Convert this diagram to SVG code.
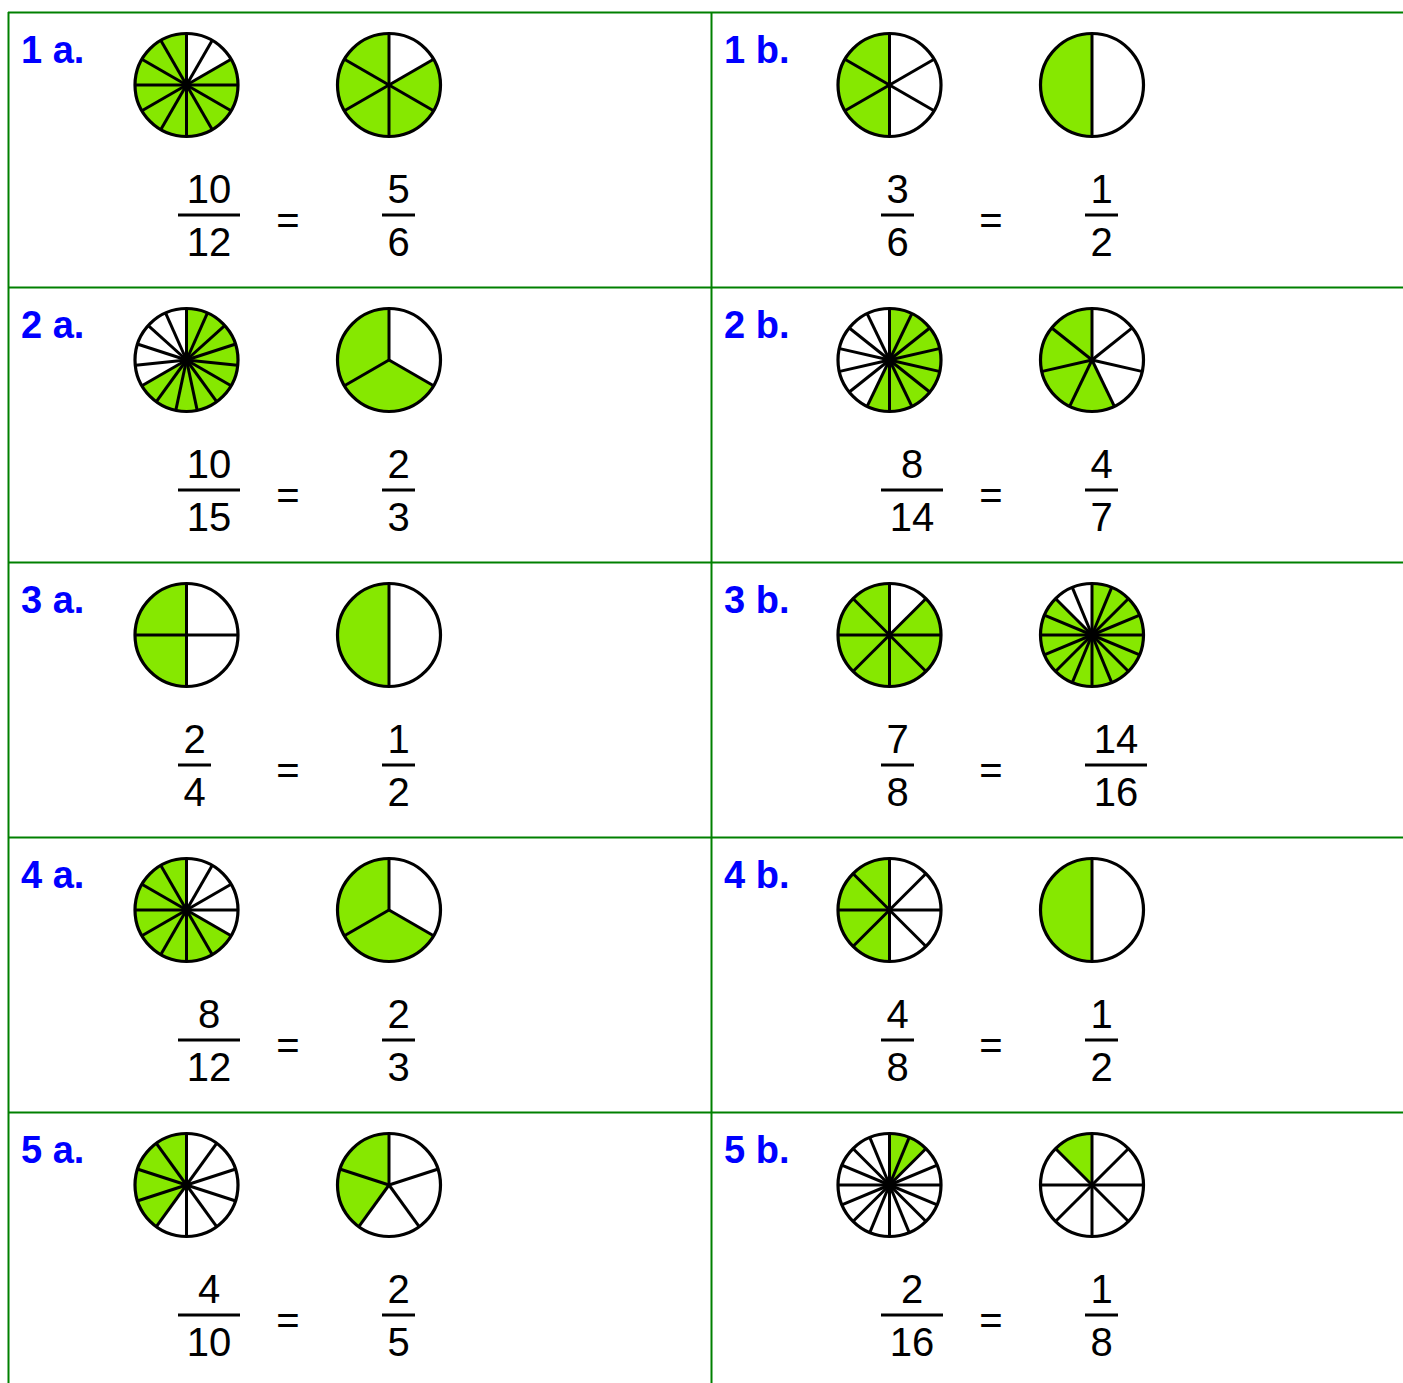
<svg xmlns="http://www.w3.org/2000/svg" xmlns:xlink="http://www.w3.org/1999/xlink" width="1403" height="1383" viewBox="0 0 1403 1383">
<style>
.grid{stroke:#008000;stroke-width:2;fill:none}
.lbl{font-family:"Liberation Sans",Arial,sans-serif;font-weight:bold;font-size:38px;fill:#0000ff}
.num{font-family:"Liberation Sans",Arial,sans-serif;font-size:40px;fill:#000;text-anchor:middle}
.bar{fill:#000}
.wedge{fill:none;stroke:#86e800;stroke-width:51}
</style>
<defs>
<line id="r" x1="0" y1="0" x2="0" y2="-51" stroke="#000" stroke-width="3"/>
<g id="s2"><use xlink:href="#r"/><use xlink:href="#r" transform="rotate(180)"/></g>
<g id="s3"><use xlink:href="#r"/><use xlink:href="#r" transform="rotate(120)"/><use xlink:href="#r" transform="rotate(240)"/></g>
<g id="s4"><use xlink:href="#r"/><use xlink:href="#r" transform="rotate(90)"/><use xlink:href="#r" transform="rotate(180)"/><use xlink:href="#r" transform="rotate(270)"/></g>
<g id="s5"><use xlink:href="#r"/><use xlink:href="#r" transform="rotate(72)"/><use xlink:href="#r" transform="rotate(144)"/><use xlink:href="#r" transform="rotate(216)"/><use xlink:href="#r" transform="rotate(288)"/></g>
<g id="s6"><use xlink:href="#r"/><use xlink:href="#r" transform="rotate(60)"/><use xlink:href="#r" transform="rotate(120)"/><use xlink:href="#r" transform="rotate(180)"/><use xlink:href="#r" transform="rotate(240)"/><use xlink:href="#r" transform="rotate(300)"/></g>
<g id="s7"><use xlink:href="#r"/><use xlink:href="#r" transform="rotate(51.4286)"/><use xlink:href="#r" transform="rotate(102.857)"/><use xlink:href="#r" transform="rotate(154.286)"/><use xlink:href="#r" transform="rotate(205.714)"/><use xlink:href="#r" transform="rotate(257.143)"/><use xlink:href="#r" transform="rotate(308.571)"/></g>
<g id="s8"><use xlink:href="#r"/><use xlink:href="#r" transform="rotate(45)"/><use xlink:href="#r" transform="rotate(90)"/><use xlink:href="#r" transform="rotate(135)"/><use xlink:href="#r" transform="rotate(180)"/><use xlink:href="#r" transform="rotate(225)"/><use xlink:href="#r" transform="rotate(270)"/><use xlink:href="#r" transform="rotate(315)"/></g>
<g id="s10"><use xlink:href="#r"/><use xlink:href="#r" transform="rotate(36)"/><use xlink:href="#r" transform="rotate(72)"/><use xlink:href="#r" transform="rotate(108)"/><use xlink:href="#r" transform="rotate(144)"/><use xlink:href="#r" transform="rotate(180)"/><use xlink:href="#r" transform="rotate(216)"/><use xlink:href="#r" transform="rotate(252)"/><use xlink:href="#r" transform="rotate(288)"/><use xlink:href="#r" transform="rotate(324)"/></g>
<g id="s12"><use xlink:href="#r"/><use xlink:href="#r" transform="rotate(30)"/><use xlink:href="#r" transform="rotate(60)"/><use xlink:href="#r" transform="rotate(90)"/><use xlink:href="#r" transform="rotate(120)"/><use xlink:href="#r" transform="rotate(150)"/><use xlink:href="#r" transform="rotate(180)"/><use xlink:href="#r" transform="rotate(210)"/><use xlink:href="#r" transform="rotate(240)"/><use xlink:href="#r" transform="rotate(270)"/><use xlink:href="#r" transform="rotate(300)"/><use xlink:href="#r" transform="rotate(330)"/></g>
<g id="s14"><use xlink:href="#r"/><use xlink:href="#r" transform="rotate(25.714)"/><use xlink:href="#r" transform="rotate(51.429)"/><use xlink:href="#r" transform="rotate(77.143)"/><use xlink:href="#r" transform="rotate(102.857)"/><use xlink:href="#r" transform="rotate(128.571)"/><use xlink:href="#r" transform="rotate(154.286)"/><use xlink:href="#r" transform="rotate(180)"/><use xlink:href="#r" transform="rotate(205.714)"/><use xlink:href="#r" transform="rotate(231.429)"/><use xlink:href="#r" transform="rotate(257.143)"/><use xlink:href="#r" transform="rotate(282.857)"/><use xlink:href="#r" transform="rotate(308.571)"/><use xlink:href="#r" transform="rotate(334.286)"/></g>
<g id="s15"><use xlink:href="#r"/><use xlink:href="#r" transform="rotate(24)"/><use xlink:href="#r" transform="rotate(48)"/><use xlink:href="#r" transform="rotate(72)"/><use xlink:href="#r" transform="rotate(96)"/><use xlink:href="#r" transform="rotate(120)"/><use xlink:href="#r" transform="rotate(144)"/><use xlink:href="#r" transform="rotate(168)"/><use xlink:href="#r" transform="rotate(192)"/><use xlink:href="#r" transform="rotate(216)"/><use xlink:href="#r" transform="rotate(240)"/><use xlink:href="#r" transform="rotate(264)"/><use xlink:href="#r" transform="rotate(288)"/><use xlink:href="#r" transform="rotate(312)"/><use xlink:href="#r" transform="rotate(336)"/></g>
<g id="s16"><use xlink:href="#r"/><use xlink:href="#r" transform="rotate(22.5)"/><use xlink:href="#r" transform="rotate(45)"/><use xlink:href="#r" transform="rotate(67.5)"/><use xlink:href="#r" transform="rotate(90)"/><use xlink:href="#r" transform="rotate(112.5)"/><use xlink:href="#r" transform="rotate(135)"/><use xlink:href="#r" transform="rotate(157.5)"/><use xlink:href="#r" transform="rotate(180)"/><use xlink:href="#r" transform="rotate(202.5)"/><use xlink:href="#r" transform="rotate(225)"/><use xlink:href="#r" transform="rotate(247.5)"/><use xlink:href="#r" transform="rotate(270)"/><use xlink:href="#r" transform="rotate(292.5)"/><use xlink:href="#r" transform="rotate(315)"/><use xlink:href="#r" transform="rotate(337.5)"/></g>
<circle id="disc" fill="#fff" r="51.5"/>
<circle id="rim" fill="none" stroke="#000" stroke-width="3.2" r="51.5"/>
</defs>
<rect width="1403" height="1383" fill="#fff"/>

<g id="grid">
<line class="grid" x1="8" y1="12.5" x2="1403" y2="12.5"/>
<line class="grid" x1="8" y1="287.5" x2="1403" y2="287.5"/>
<line class="grid" x1="8" y1="562.5" x2="1403" y2="562.5"/>
<line class="grid" x1="8" y1="837.5" x2="1403" y2="837.5"/>
<line class="grid" x1="8" y1="1112.5" x2="1403" y2="1112.5"/>
<line class="grid" x1="8.5" y1="12" x2="8.5" y2="1383"/>
<line class="grid" x1="711.5" y1="12" x2="711.5" y2="1383"/>
</g>

<!-- 1a -->
<g id="cell-1a">
<text class="lbl" x="21" y="63">1 a.</text>
<g transform="translate(186.5,85)"><use xlink:href="#disc"/><circle class="wedge" r="25.5" pathLength="360" transform="rotate(-90)" stroke-dasharray="300 360" stroke-dashoffset="-60"/><use xlink:href="#s12"/><use xlink:href="#rim"/></g>
<g transform="translate(389,85)"><use xlink:href="#disc"/><circle class="wedge" r="25.5" pathLength="360" transform="rotate(-90)" stroke-dasharray="300 360" stroke-dashoffset="-60"/><use xlink:href="#s6"/><use xlink:href="#rim"/></g>
<text class="num" x="209" y="203">10</text><rect class="bar" x="178" y="213.5" width="62" height="3"/><text class="num" x="209" y="256">12</text>
<text class="num" x="288" y="234">=</text>
<text class="num" x="398.5" y="203">5</text><rect class="bar" x="382" y="213.5" width="33" height="3"/><text class="num" x="398.5" y="256">6</text>
</g>

<!-- 1b -->
<g id="cell-1b" transform="translate(703,0)">
<text class="lbl" x="21" y="63">1 b.</text>
<g transform="translate(186.5,85)"><use xlink:href="#disc"/><circle class="wedge" r="25.5" pathLength="360" transform="rotate(-90)" stroke-dasharray="180 360" stroke-dashoffset="-180"/><use xlink:href="#s6"/><use xlink:href="#rim"/></g>
<g transform="translate(389,85)"><use xlink:href="#disc"/><circle class="wedge" r="25.5" pathLength="360" transform="rotate(-90)" stroke-dasharray="180 360" stroke-dashoffset="-180"/><use xlink:href="#s2"/><use xlink:href="#rim"/></g>
<text class="num" x="194.5" y="203">3</text><rect class="bar" x="178" y="213.5" width="33" height="3"/><text class="num" x="194.5" y="256">6</text>
<text class="num" x="288" y="234">=</text>
<text class="num" x="398.5" y="203">1</text><rect class="bar" x="382" y="213.5" width="33" height="3"/><text class="num" x="398.5" y="256">2</text>
</g>

<!-- 2a -->
<g id="cell-2a" transform="translate(0,275)">
<text class="lbl" x="21" y="63">2 a.</text>
<g transform="translate(186.5,85)"><use xlink:href="#disc"/><circle class="wedge" r="25.5" pathLength="360" transform="rotate(-90)" stroke-dasharray="240 360" stroke-dashoffset="0"/><use xlink:href="#s15"/><use xlink:href="#rim"/></g>
<g transform="translate(389,85)"><use xlink:href="#disc"/><circle class="wedge" r="25.5" pathLength="360" transform="rotate(-90)" stroke-dasharray="240 360" stroke-dashoffset="-120"/><use xlink:href="#s3"/><use xlink:href="#rim"/></g>
<text class="num" x="209" y="203">10</text><rect class="bar" x="178" y="213.5" width="62" height="3"/><text class="num" x="209" y="256">15</text>
<text class="num" x="288" y="234">=</text>
<text class="num" x="398.5" y="203">2</text><rect class="bar" x="382" y="213.5" width="33" height="3"/><text class="num" x="398.5" y="256">3</text>
</g>

<!-- 2b -->
<g id="cell-2b" transform="translate(703,275)">
<text class="lbl" x="21" y="63">2 b.</text>
<g transform="translate(186.5,85)"><use xlink:href="#disc"/><circle class="wedge" r="25.5" pathLength="360" transform="rotate(-90)" stroke-dasharray="205.714 360" stroke-dashoffset="0"/><use xlink:href="#s14"/><use xlink:href="#rim"/></g>
<g transform="translate(389,85)"><use xlink:href="#disc"/><circle class="wedge" r="25.5" pathLength="360" transform="rotate(-90)" stroke-dasharray="205.714 360" stroke-dashoffset="-154.286"/><use xlink:href="#s7"/><use xlink:href="#rim"/></g>
<text class="num" x="209" y="203">8</text><rect class="bar" x="178" y="213.5" width="62" height="3"/><text class="num" x="209" y="256">14</text>
<text class="num" x="288" y="234">=</text>
<text class="num" x="398.5" y="203">4</text><rect class="bar" x="382" y="213.5" width="33" height="3"/><text class="num" x="398.5" y="256">7</text>
</g>

<!-- 3a -->
<g id="cell-3a" transform="translate(0,550)">
<text class="lbl" x="21" y="63">3 a.</text>
<g transform="translate(186.5,85)"><use xlink:href="#disc"/><circle class="wedge" r="25.5" pathLength="360" transform="rotate(-90)" stroke-dasharray="180 360" stroke-dashoffset="-180"/><use xlink:href="#s4"/><use xlink:href="#rim"/></g>
<g transform="translate(389,85)"><use xlink:href="#disc"/><circle class="wedge" r="25.5" pathLength="360" transform="rotate(-90)" stroke-dasharray="180 360" stroke-dashoffset="-180"/><use xlink:href="#s2"/><use xlink:href="#rim"/></g>
<text class="num" x="194.5" y="203">2</text><rect class="bar" x="178" y="213.5" width="33" height="3"/><text class="num" x="194.5" y="256">4</text>
<text class="num" x="288" y="234">=</text>
<text class="num" x="398.5" y="203">1</text><rect class="bar" x="382" y="213.5" width="33" height="3"/><text class="num" x="398.5" y="256">2</text>
</g>

<!-- 3b -->
<g id="cell-3b" transform="translate(703,550)">
<text class="lbl" x="21" y="63">3 b.</text>
<g transform="translate(186.5,85)"><use xlink:href="#disc"/><circle class="wedge" r="25.5" pathLength="360" transform="rotate(-90)" stroke-dasharray="315 360" stroke-dashoffset="-45"/><use xlink:href="#s8"/><use xlink:href="#rim"/></g>
<g transform="translate(389,85)"><use xlink:href="#disc"/><circle class="wedge" r="25.5" pathLength="360" transform="rotate(-90)" stroke-dasharray="315 360" stroke-dashoffset="0"/><use xlink:href="#s16"/><use xlink:href="#rim"/></g>
<text class="num" x="194.5" y="203">7</text><rect class="bar" x="178" y="213.5" width="33" height="3"/><text class="num" x="194.5" y="256">8</text>
<text class="num" x="288" y="234">=</text>
<text class="num" x="413" y="203">14</text><rect class="bar" x="382" y="213.5" width="62" height="3"/><text class="num" x="413" y="256">16</text>
</g>

<!-- 4a -->
<g id="cell-4a" transform="translate(0,825)">
<text class="lbl" x="21" y="63">4 a.</text>
<g transform="translate(186.5,85)"><use xlink:href="#disc"/><circle class="wedge" r="25.5" pathLength="360" transform="rotate(-90)" stroke-dasharray="240 360" stroke-dashoffset="-120"/><use xlink:href="#s12"/><use xlink:href="#rim"/></g>
<g transform="translate(389,85)"><use xlink:href="#disc"/><circle class="wedge" r="25.5" pathLength="360" transform="rotate(-90)" stroke-dasharray="240 360" stroke-dashoffset="-120"/><use xlink:href="#s3"/><use xlink:href="#rim"/></g>
<text class="num" x="209" y="203">8</text><rect class="bar" x="178" y="213.5" width="62" height="3"/><text class="num" x="209" y="256">12</text>
<text class="num" x="288" y="234">=</text>
<text class="num" x="398.5" y="203">2</text><rect class="bar" x="382" y="213.5" width="33" height="3"/><text class="num" x="398.5" y="256">3</text>
</g>

<!-- 4b -->
<g id="cell-4b" transform="translate(703,825)">
<text class="lbl" x="21" y="63">4 b.</text>
<g transform="translate(186.5,85)"><use xlink:href="#disc"/><circle class="wedge" r="25.5" pathLength="360" transform="rotate(-90)" stroke-dasharray="180 360" stroke-dashoffset="-180"/><use xlink:href="#s8"/><use xlink:href="#rim"/></g>
<g transform="translate(389,85)"><use xlink:href="#disc"/><circle class="wedge" r="25.5" pathLength="360" transform="rotate(-90)" stroke-dasharray="180 360" stroke-dashoffset="-180"/><use xlink:href="#s2"/><use xlink:href="#rim"/></g>
<text class="num" x="194.5" y="203">4</text><rect class="bar" x="178" y="213.5" width="33" height="3"/><text class="num" x="194.5" y="256">8</text>
<text class="num" x="288" y="234">=</text>
<text class="num" x="398.5" y="203">1</text><rect class="bar" x="382" y="213.5" width="33" height="3"/><text class="num" x="398.5" y="256">2</text>
</g>

<!-- 5a -->
<g id="cell-5a" transform="translate(0,1100)">
<text class="lbl" x="21" y="63">5 a.</text>
<g transform="translate(186.5,85)"><use xlink:href="#disc"/><circle class="wedge" r="25.5" pathLength="360" transform="rotate(-90)" stroke-dasharray="144 360" stroke-dashoffset="-216"/><use xlink:href="#s10"/><use xlink:href="#rim"/></g>
<g transform="translate(389,85)"><use xlink:href="#disc"/><circle class="wedge" r="25.5" pathLength="360" transform="rotate(-90)" stroke-dasharray="144 360" stroke-dashoffset="-216"/><use xlink:href="#s5"/><use xlink:href="#rim"/></g>
<text class="num" x="209" y="203">4</text><rect class="bar" x="178" y="213.5" width="62" height="3"/><text class="num" x="209" y="256">10</text>
<text class="num" x="288" y="234">=</text>
<text class="num" x="398.5" y="203">2</text><rect class="bar" x="382" y="213.5" width="33" height="3"/><text class="num" x="398.5" y="256">5</text>
</g>

<!-- 5b -->
<g id="cell-5b" transform="translate(703,1100)">
<text class="lbl" x="21" y="63">5 b.</text>
<g transform="translate(186.5,85)"><use xlink:href="#disc"/><circle class="wedge" r="25.5" pathLength="360" transform="rotate(-90)" stroke-dasharray="45 360" stroke-dashoffset="0"/><use xlink:href="#s16"/><use xlink:href="#rim"/></g>
<g transform="translate(389,85)"><use xlink:href="#disc"/><circle class="wedge" r="25.5" pathLength="360" transform="rotate(-90)" stroke-dasharray="45 360" stroke-dashoffset="-315"/><use xlink:href="#s8"/><use xlink:href="#rim"/></g>
<text class="num" x="209" y="203">2</text><rect class="bar" x="178" y="213.5" width="62" height="3"/><text class="num" x="209" y="256">16</text>
<text class="num" x="288" y="234">=</text>
<text class="num" x="398.5" y="203">1</text><rect class="bar" x="382" y="213.5" width="33" height="3"/><text class="num" x="398.5" y="256">8</text>
</g>
</svg>
